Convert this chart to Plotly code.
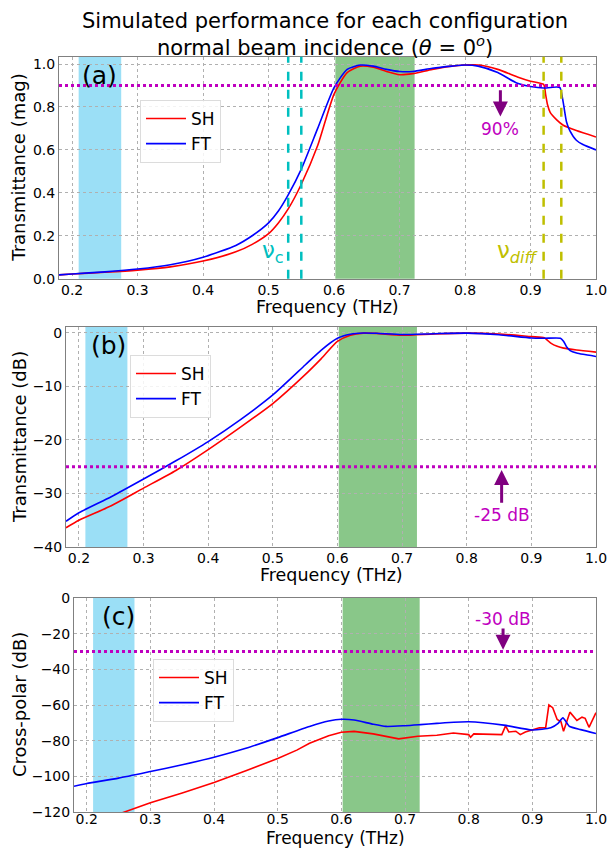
import plotly.graph_objects as go

# ---------------- data ----------------
# Panel (a): transmittance magnitude
freq_a_sh = [0.18, 0.2, 0.25, 0.3, 0.35, 0.4, 0.45, 0.475, 0.5, 0.515, 0.53, 0.55, 0.575, 0.6, 0.62, 0.64, 0.66,
             0.68, 0.7, 0.72, 0.75, 0.78, 0.8, 0.82, 0.85, 0.88, 0.9, 0.92, 0.923, 0.926, 0.93, 0.94, 0.95, 0.97, 1.0]
trans_a_sh = [0.018, 0.022, 0.03, 0.04, 0.055, 0.082, 0.125, 0.16, 0.21, 0.26, 0.325, 0.44, 0.62, 0.86, 0.96, 0.99,
              0.985, 0.965, 0.95, 0.955, 0.975, 0.99, 0.995, 0.995, 0.975, 0.94, 0.92, 0.905, 0.86, 0.81, 0.775,
              0.74, 0.715, 0.69, 0.66]
freq_a_ft = [0.18, 0.2, 0.25, 0.3, 0.35, 0.4, 0.45, 0.475, 0.5, 0.515, 0.53, 0.55, 0.575, 0.6, 0.62, 0.64, 0.66,
             0.68, 0.7, 0.72, 0.75, 0.78, 0.8, 0.82, 0.85, 0.88, 0.9, 0.92, 0.94, 0.945, 0.95, 0.955, 0.96, 0.97,
             0.98, 1.0]
trans_a_ft = [0.018, 0.022, 0.032, 0.045, 0.065, 0.1, 0.155, 0.2, 0.26, 0.315, 0.39, 0.51, 0.7, 0.89, 0.975, 0.995,
              0.99, 0.975, 0.965, 0.965, 0.98, 0.99, 0.995, 0.99, 0.96, 0.91, 0.895, 0.888, 0.893, 0.89, 0.82,
              0.73, 0.69, 0.645, 0.625, 0.60]

# Panel (b): transmittance in dB
freq_b_sh = [0.18, 0.2, 0.25, 0.3, 0.35, 0.4, 0.45, 0.5, 0.55, 0.575, 0.6, 0.62, 0.64, 0.66, 0.7, 0.75, 0.8,
             0.85, 0.9, 0.92, 0.925, 0.93, 0.94, 0.95, 0.97, 1.0]
trans_b_sh = [-36.4, -35.0, -32.3, -29.0, -25.7, -21.8, -17.6, -13.2, -7.8, -4.8, -1.6, -0.45, -0.05, -0.1, -0.45,
              -0.2, -0.05, -0.2, -0.7, -0.9, -1.4, -1.9, -2.5, -2.85, -3.2, -3.6]
freq_b_ft = [0.18, 0.2, 0.25, 0.3, 0.35, 0.4, 0.45, 0.5, 0.55, 0.575, 0.6, 0.62, 0.64, 0.66, 0.7, 0.75, 0.8,
             0.85, 0.9, 0.92, 0.945, 0.95, 0.955, 0.96, 0.97, 0.98, 1.0]
trans_b_ft = [-35.2, -33.6, -30.6, -27.3, -23.9, -20.3, -16.2, -11.6, -6.0, -3.2, -1.0, -0.25, -0.03, -0.08, -0.3,
              -0.15, -0.05, -0.35, -0.95, -1.0, -1.0, -1.6, -2.7, -3.3, -3.75, -4.0, -4.4]

# Panel (c): cross-polar in dB
freq_c_sh = [0.25, 0.3, 0.35, 0.4, 0.45, 0.5, 0.53, 0.55, 0.58, 0.6, 0.62, 0.65, 0.69, 0.72, 0.75, 0.776, 0.8,
             0.803, 0.808, 0.852, 0.858, 0.863, 0.874, 0.881, 0.889, 0.9, 0.911, 0.921, 0.926, 0.932, 0.939,
             0.945, 0.949, 0.959, 0.970, 0.978, 0.983, 0.989, 1.0]
xpol_c_sh = [-121.2, -114.8, -109.3, -103.5, -96.9, -90.0, -85.3, -81.5, -77.2, -75.3, -74.8, -76.2, -79.0, -77.5,
             -77.0, -75.7, -76.6, -78.1, -76.2, -76.6, -71.7, -75.1, -74.7, -76.6, -75.1, -74.0, -72.8, -72.6,
             -60.0, -61.5, -68.1, -69.4, -74.7, -64.0, -68.7, -66.8, -67.5, -72.5, -64.3]
freq_c_ft = [0.18, 0.2, 0.25, 0.3, 0.35, 0.4, 0.45, 0.5, 0.55, 0.58, 0.6, 0.62, 0.65, 0.67, 0.7, 0.724, 0.75, 0.8,
             0.855, 0.9, 0.929, 0.94, 0.948, 0.958, 0.976, 1.0]
xpol_c_ft = [-105.6, -104.0, -101.0, -97.3, -93.5, -89.3, -84.3, -78.3, -72.0, -69.0, -68.0, -68.4, -70.8, -72.0,
             -71.6, -71.0, -70.3, -69.4, -71.3, -74.0, -72.8, -70.5, -67.2, -71.9, -73.8, -76.0]

band_blue = [0.21, 0.275]
band_green = [0.602, 0.723]
nu_c_lines = [0.53, 0.55]
nu_diff_lines = [0.92, 0.947]
thresholds = [0.9, -25, -30]
x_ticks = [0.2, 0.3, 0.4, 0.5, 0.6, 0.7, 0.8, 0.9, 1.0]

# ---------------- styles ----------------
FONT = "DejaVu Sans"
RED = "rgb(255,0,0)"
BLUE = "rgb(0,0,255)"
CYAN = "rgb(0,191,191)"
YEL = "rgb(191,191,0)"
MAG = "rgb(191,0,191)"
PURPLE = "rgb(128,0,128)"
W, H = 607, 848

def px_x(p):
    return p / W

def px_y(p):
    return 1 - p / H

fig = go.Figure()

panels = [
    dict(xa="x", ya="y", leg="legend", sh=(freq_a_sh, trans_a_sh), ft=(freq_a_ft, trans_a_ft), spline=True),
    dict(xa="x2", ya="y2", leg="legend2", sh=(freq_b_sh, trans_b_sh), ft=(freq_b_ft, trans_b_ft), spline=True),
    dict(xa="x3", ya="y3", leg="legend3", sh=(freq_c_sh, xpol_c_sh), ft=(freq_c_ft, xpol_c_ft), spline=False),
]

for i, p in enumerate(panels):
    if p["spline"]:
        sh_line = dict(color=RED, width=1.6, shape="spline", smoothing=0.6)
    else:
        sh_line = dict(color=RED, width=1.6, shape="linear")
    fig.add_trace(go.Scatter(x=p["sh"][0], y=p["sh"][1], mode="lines", name="SH", line=sh_line,
                             xaxis=p["xa"], yaxis=p["ya"], legend=p["leg"]))
    fig.add_trace(go.Scatter(x=p["ft"][0], y=p["ft"][1], mode="lines", name="FT",
                             line=dict(color=BLUE, width=1.6, shape="spline", smoothing=0.6),
                             xaxis=p["xa"], yaxis=p["ya"], legend=p["leg"]))

shapes = []
for i, p in enumerate(panels):
    xr = p["xa"]
    yr = p["ya"] + " domain"
    shapes.append(dict(type="rect", xref=xr, yref=yr, x0=band_blue[0], x1=band_blue[1], y0=0, y1=1,
                       fillcolor="rgb(155,223,246)", line=dict(width=0), layer="below"))
    shapes.append(dict(type="rect", xref=xr, yref=yr, x0=band_green[0], x1=band_green[1], y0=0, y1=1,
                       fillcolor="rgb(137,199,137)", line=dict(width=0), layer="below"))
    shapes.append(dict(type="line", xref=xr + " domain", yref=p["ya"], x0=0, x1=1,
                       y0=thresholds[i], y1=thresholds[i], line=dict(color=MAG, width=3, dash="dot")))
for v in nu_c_lines:
    shapes.append(dict(type="line", xref="x", yref="y domain", x0=v, x1=v, y0=0, y1=1,
                       line=dict(color=CYAN, width=2.5, dash="dash")))
for v in nu_diff_lines:
    shapes.append(dict(type="line", xref="x", yref="y domain", x0=v, x1=v, y0=0, y1=1,
                       line=dict(color=YEL, width=2.5, dash="dash")))

axis_common = dict(showgrid=True, gridcolor="rgb(176,176,176)", griddash="dot", gridwidth=1,
                   showline=True, linecolor="rgb(128,128,128)", linewidth=1, mirror=True,
                   ticks="", automargin=False, ticklabeloverflow="allow",
                   tickfont=dict(family=FONT, size=14, color="black"), zeroline=False)

x_left = [59, 66, 74]
y_dom = [(56.7, 278.7), (327, 547), (598, 812)]
y_ranges = [[0, 1.034], [-40, 1.1], [-120, 0]]
y_dticks = [0.2, 10, 20]
y_fmt = [".1f", "d", "d"]
x_standoff = [-2, -2, -6]

layout_axes = {}
for i in range(3):
    xn = "xaxis" if i == 0 else f"xaxis{i+1}"
    yn = "yaxis" if i == 0 else f"yaxis{i+1}"
    ya = "y" if i == 0 else f"y{i+1}"
    xa = "x" if i == 0 else f"x{i+1}"
    layout_axes[xn] = dict(axis_common, domain=[px_x(x_left[i]), px_x(596)], range=[0.18, 1.0],
                           tickvals=x_ticks, tickformat=".1f", anchor=ya, ticklabelstandoff=x_standoff[i])
    layout_axes[yn] = dict(axis_common, domain=[px_y(y_dom[i][1]), px_y(y_dom[i][0])], range=y_ranges[i],
                           dtick=y_dticks[i], tick0=0, tickformat=y_fmt[i], anchor=xa)

ann = []
# title
ann.append(dict(xref="paper", yref="paper", x=px_x(325), y=px_y(34.5), xanchor="center", yanchor="middle",
                text="Simulated performance for each configuration<br>normal beam incidence (<i>θ</i> = 0<sup><i>o</i></sup>)",
                showarrow=False, font=dict(family=FONT, size=21, color="black")))
# axis titles
xlab_y = [307, 575, 838]
xlab_size = [17.5, 17.5, 17]
ylab_txt = ["Transmittance (mag)", "Transmittance (dB)", "Cross-polar (dB)"]
ylab_x = [19, 19, 19]
for i in range(3):
    ann.append(dict(xref="paper", yref="paper", x=px_x((x_left[i] + 596) / 2), y=px_y(xlab_y[i]),
                    xanchor="center", yanchor="middle", text="Frequency (THz)", showarrow=False,
                    font=dict(family=FONT, size=xlab_size[i], color="black")))
    ann.append(dict(xref="paper", yref="paper", x=px_x(ylab_x[i]), y=px_y((y_dom[i][0] + y_dom[i][1]) / 2),
                    xanchor="center", yanchor="middle", text=ylab_txt[i], textangle=-90, showarrow=False,
                    font=dict(family=FONT, size=18, color="black")))
# panel labels
labels = [("(a)", "x", "y", 0.242, 0.945), ("(b)", "x2", "y2", 0.245, -2.3), ("(c)", "x3", "y3", 0.25, -10.5)]
for t, xr, yr, xv, yv in labels:
    ann.append(dict(xref=xr, yref=yr, x=xv, y=yv, text=t, showarrow=False, xanchor="center", yanchor="middle",
                    font=dict(family=FONT, size=25, color="black")))
# nu labels
ann.append(dict(xref="x", yref="y", x=0.507, y=0.125, text="ν<sub>c</sub>", showarrow=False,
                font=dict(family=FONT, size=23, color=CYAN)))
ann.append(dict(xref="x", yref="y", x=0.881, y=0.125, text="ν<sub><i>diff</i></sub>", showarrow=False,
                font=dict(family=FONT, size=23, color=YEL)))
# arrows
ann.append(dict(xref="x", yref="y", axref="x", ayref="y", x=0.854, y=0.755, ax=0.854, ay=0.885, text="",
                showarrow=True, arrowhead=2, arrowsize=1, arrowwidth=3, arrowcolor=PURPLE))
ann.append(dict(xref="x", yref="y", x=0.854, y=0.695, text="90%", showarrow=False,
                font=dict(family=FONT, size=17, color=MAG)))
ann.append(dict(xref="x2", yref="y2", axref="x2", ayref="y2", x=0.854, y=-25.6, ax=0.854, ay=-32.0, text="",
                showarrow=True, arrowhead=2, arrowsize=1, arrowwidth=3, arrowcolor=PURPLE))
ann.append(dict(xref="x2", yref="y2", x=0.854, y=-34.0, text="-25 dB", showarrow=False,
                font=dict(family=FONT, size=17, color=MAG)))
ann.append(dict(xref="x3", yref="y3", axref="x3", ayref="y3", x=0.854, y=-29.0, ax=0.854, ay=-16.3, text="",
                showarrow=True, arrowhead=2, arrowsize=1, arrowwidth=3, arrowcolor=PURPLE))
ann.append(dict(xref="x3", yref="y3", x=0.854, y=-11.6, text="-30 dB", showarrow=False,
                font=dict(family=FONT, size=17, color=MAG)))

leg_common = dict(bgcolor="rgba(255,255,255,0.85)", bordercolor="rgb(220,220,220)", borderwidth=1,
                  font=dict(family=FONT, size=17, color="black"), xanchor="left", yanchor="top",
                  xref="paper", yref="paper", tracegroupgap=0, itemwidth=40)

fig.update_layout(
    template="none",
    width=W, height=H,
    margin=dict(l=0, r=0, t=0, b=0, pad=0, autoexpand=False),
    paper_bgcolor="white", plot_bgcolor="white",
    font=dict(family=FONT, color="black"),
    showlegend=True,
    legend=dict(leg_common, x=px_x(140), y=px_y(100)),
    legend2=dict(leg_common, x=px_x(130), y=px_y(355)),
    legend3=dict(leg_common, x=px_x(153), y=px_y(659)),
    shapes=shapes,
    annotations=ann,
    **layout_axes,
)

fig.write_html("out.html", config={"displayModeBar": False},
               post_script="document.body.style.margin='0px';document.body.style.overflow='hidden';")
